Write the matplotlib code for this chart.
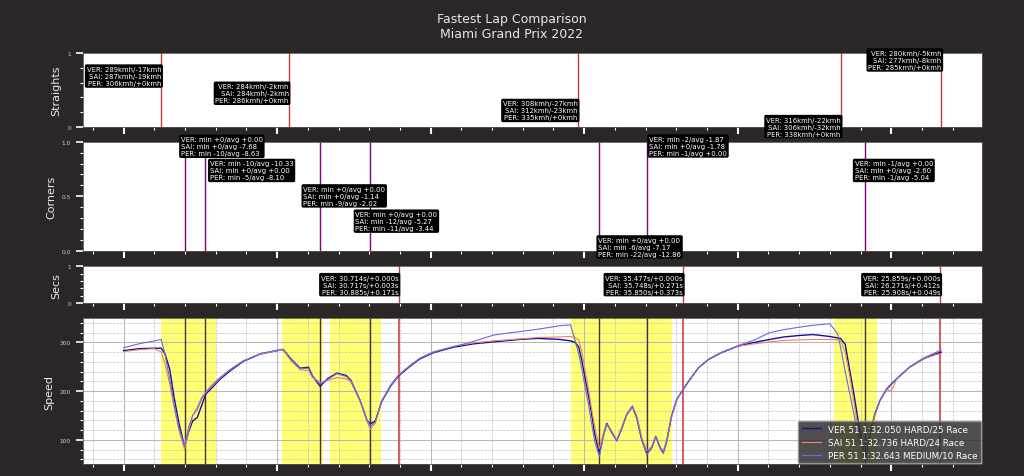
import numpy as np
import matplotlib.pyplot as plt
from matplotlib.ticker import MultipleLocator

# lap distance [m] and speed traces [km/h]
distance = [0, 100, 200, 245, 270, 300, 330, 360, 397, 425, 450, 480, 510, 535, 570, 630, 700, 780,
            890, 1000, 1040, 1090, 1150, 1205, 1230, 1280, 1330, 1390, 1450, 1480, 1540, 1585, 1607,
            1640, 1680, 1740, 1790, 1870, 1930, 2020, 2150, 2280, 2410, 2580, 2700, 2840, 2910, 2940,
            2965, 2985, 3005, 3030, 3050, 3070, 3099, 3125, 3147, 3180, 3212, 3245, 3277, 3314, 3342,
            3375, 3408, 3440, 3466, 3494, 3515, 3537, 3570, 3603, 3642, 3680, 3745, 3810, 3895, 4000,
            4110, 4210, 4300, 4400, 4490, 4600, 4650, 4670, 4700, 4730, 4760, 4785, 4830, 4860, 4893,
            4925, 4970, 5000, 5035, 5120, 5210, 5295, 5325]
ver_speed = [283, 287, 288, 288, 276, 245, 185, 135, 86, 118, 139, 146, 172, 194, 205, 225, 243, 261,
             276, 283, 285, 266, 247, 249, 231, 210, 226, 237, 232, 222, 181, 140, 133,
             139, 178, 211, 231, 252, 266, 279, 290, 297, 301, 306, 308, 306, 303, 300,
             290, 262, 228, 187, 150, 110, 72, 110, 134, 115, 99, 124, 152, 168, 146,
             100, 72, 84, 107, 84, 74, 97, 150, 183, 202, 220, 248, 265, 279, 292,
             300, 306, 311, 314, 316, 312, 309, 308, 296, 242, 188, 138, 62, 110, 153,
             180, 204, 214, 225, 249, 266, 277, 280]
sai_speed = [281, 285, 287, 280, 255, 215, 165, 120, 80, 120, 150, 168, 188, 198, 212, 229, 246, 262,
             276, 283, 284, 262, 244, 242, 228, 218, 222, 228, 225, 220, 180, 138, 122,
             135, 180, 213, 233, 254, 268, 281, 292, 299, 303, 307, 310, 311, 312, 310,
             305, 280, 245, 200, 160, 125, 82, 112, 132, 118, 100, 126, 150, 166, 150,
             105, 78, 86, 105, 86, 78, 98, 148, 182, 203, 221, 249, 266, 280, 292,
             297, 301, 304, 305, 306, 306, 305, 304, 280, 230, 170, 120, 64, 112, 150,
             178, 203, 200, 224, 249, 266, 275, 277]
per_speed = [289, 297, 303, 306, 275, 225, 170, 125, 88, 128, 150, 162, 185, 197, 208, 227, 245, 262,
             277, 284, 286, 265, 246, 247, 230, 214, 224, 236, 230, 221, 181, 142, 128,
             137, 179, 212, 232, 253, 267, 280, 291, 302, 315, 322, 327, 334, 336, 305,
             275, 245, 210, 170, 130, 95, 66, 108, 133, 116, 97, 124, 153, 170, 147,
             100, 70, 85, 108, 85, 72, 96, 150, 184, 202, 221, 248, 265, 279, 293,
             305, 320, 326, 331, 335, 338, 318, 290, 240, 195, 148, 110, 60, 110, 152,
             180, 205, 215, 226, 250, 268, 280, 285]

drivers = ['VER', 'SAI', 'PER']
lap_labels = ['VER 51 1:32.050 HARD/25 Race', 'SAI 51 1:32.736 HARD/24 Race',
              'PER 51 1:32.643 MEDIUM/10 Race']
colors = ['#10109a', '#f0806a', '#6a6ae0']

# straights: end of straight and top speeds (VER, SAI, PER)
straight_end = [245, 1075, 2958, 4671, 5327]
straight_top = [[289, 287, 306], [284, 284, 286], [308, 312, 335], [316, 306, 338], [280, 277, 285]]
straight_label_y = [0.69, 0.455, 0.22, 0.0, 0.91]

# corners: apex and min/avg speed deltas
corner_apex = [397, 529, 1277, 1607, 3099, 3411, 4830]
corner_min = [[0, 0, -10], [-10, 0, -5], [0, 0, -9], [0, -12, -11], [0, -6, -22], [-2, 0, -1], [-1, 0, -1]]
corner_avg = [[0.00, -7.68, -8.63], [-10.33, 0.00, -8.10], [0.00, -1.14, -2.02], [0.00, -5.27, -3.44],
              [0.00, -7.17, -12.86], [-1.87, -1.78, 0.00], [0.00, -2.60, -5.04]]
corner_label_x = [373, 561, 1170, 1510, 3091, 3423, 4761]
corner_label_y = [0.957, 0.737, 0.505, 0.275, 0.04, 0.96, 0.737]
corner_zones = [(241, 600), (1032, 1300), (1347, 1677), (2915, 3572), (4628, 4906)]

# sectors
sector_end = [1791, 3643, 5320]
sector_time = [[30.714, 30.717, 30.885], [35.477, 35.748, 35.850], [25.859, 26.271, 25.908]]

lap_len = 5325
bg = '#2b2727'
fg = '#e8e8e8'
box = dict(boxstyle='round,pad=0.25', fc='black', ec='none')
fs_note = 4.95

fig = plt.figure(figsize=(10.24, 4.77), dpi=100, facecolor=bg)
gs = fig.add_gridspec(4, 1, height_ratios=[2, 3, 1, 4], left=0.0808, right=0.959,
                      top=0.886, bottom=0.0245, hspace=0.164)
ax_st = fig.add_subplot(gs[0])
ax_co = fig.add_subplot(gs[1])
ax_se = fig.add_subplot(gs[2])
ax_sp = fig.add_subplot(gs[3])

fig.suptitle('Fastest Lap Comparison\nMiami Grand Prix 2022', color=fg, fontsize=9, y=0.972,
             x=0.5, linespacing=1.15)

for ax in [ax_st, ax_co, ax_se, ax_sp]:
    ax.set_facecolor('white')
    ax.set_xlim(-0.05 * lap_len, 1.05 * lap_len)
    ax.xaxis.set_major_locator(MultipleLocator(1000))
    ax.xaxis.set_minor_locator(MultipleLocator(200))
    ax.tick_params(axis='x', which='major', length=5, width=1.5, colors='white', labelbottom=False)
    ax.tick_params(axis='x', which='minor', length=2.5, width=0.8, colors='white')
    ax.tick_params(axis='y', which='major', length=5, width=1.2, colors='white', labelsize=4.2,
                   labelcolor='#d0d0d0')
    ax.tick_params(axis='y', which='minor', length=2.5, width=0.8, colors='white')
    for s in ax.spines.values():
        s.set_color('#555555')
        s.set_linewidth(0.6)

# Straights
ax_st.set_ylim(0, 1)
ax_st.yaxis.set_major_locator(MultipleLocator(1))
ax_st.yaxis.set_minor_locator(MultipleLocator(0.2))
ax_st.set_ylabel('Straights', color=fg, fontsize=8)
for d, tops, ly in zip(straight_end, straight_top, straight_label_y):
    ax_st.axvline(d, color='#c83a3a', lw=1)
    best = max(tops)
    txt = '\n'.join(f'{drv}: {v}kmh/{v - best:+d}kmh' for drv, v in zip(drivers, tops))
    ax_st.text(d, ly, txt, transform=ax_st.get_xaxis_transform(), ha='right', va='center',
               multialignment='right', fontsize=fs_note, color='white', bbox=box)

# Corners
ax_co.set_ylim(0, 1)
ax_co.yaxis.set_major_locator(MultipleLocator(0.5))
ax_co.yaxis.set_minor_locator(MultipleLocator(0.1))
ax_co.set_ylabel('Corners', color=fg, fontsize=8)
for d, mins, avgs, lx, ly in zip(corner_apex, corner_min, corner_avg, corner_label_x, corner_label_y):
    ax_co.axvline(d, color='#800080', lw=1)
    txt = '\n'.join(f'{drv}: min {m:+d}/avg {a:+.2f}' for drv, m, a in zip(drivers, mins, avgs))
    ax_co.text(lx, ly, txt, transform=ax_co.get_xaxis_transform(), ha='left', va='center',
               fontsize=fs_note, color='white', bbox=box)

# Sectors
ax_se.set_ylim(0, 1)
ax_se.yaxis.set_major_locator(MultipleLocator(1))
ax_se.yaxis.set_minor_locator(MultipleLocator(0.2))
ax_se.set_ylabel('Secs', color=fg, fontsize=8)
for d, times in zip(sector_end, sector_time):
    ax_se.axvline(d, color='#c83a3a', lw=1)
    best = min(times)
    txt = '\n'.join(f'{drv}: {t:.3f}s/{t - best:+.3f}s' for drv, t in zip(drivers, times))
    ax_se.text(d, 0.5, txt, transform=ax_se.get_xaxis_transform(), ha='right', va='center',
               multialignment='right', fontsize=fs_note, color='white', bbox=box)

# Speed
for a, b in corner_zones:
    ax_sp.axvspan(a, b, color='yellow', alpha=0.55, lw=0)
for d in corner_apex:
    ax_sp.axvline(d, color='#4a3030', lw=1)
for d in sector_end:
    ax_sp.axvline(d, color='#d04040', lw=1.2)
for sp, lbl, c, lw in zip([ver_speed, sai_speed, per_speed], lap_labels, colors, [1.0, 0.8, 0.8]):
    ax_sp.plot(distance, sp, color=c, lw=lw, label=lbl)
ax_sp.set_ylim(50, 350)
ax_sp.yaxis.set_major_locator(MultipleLocator(100))
ax_sp.yaxis.set_minor_locator(MultipleLocator(20))
ax_sp.grid(which='major', color='#b8b8b8', lw=0.8)
ax_sp.grid(which='minor', color='#c0c0c0', lw=0.5, ls='--')
ax_sp.set_ylabel('Speed', color=fg, fontsize=8)
leg = ax_sp.legend(loc='lower right', fontsize=6.3, facecolor='#303030', edgecolor='#909090',
                   framealpha=0.85, borderaxespad=0.1, handlelength=2.2)
for t in leg.get_texts():
    t.set_color('white')

fig.savefig('out.png', dpi=100, facecolor=bg)
